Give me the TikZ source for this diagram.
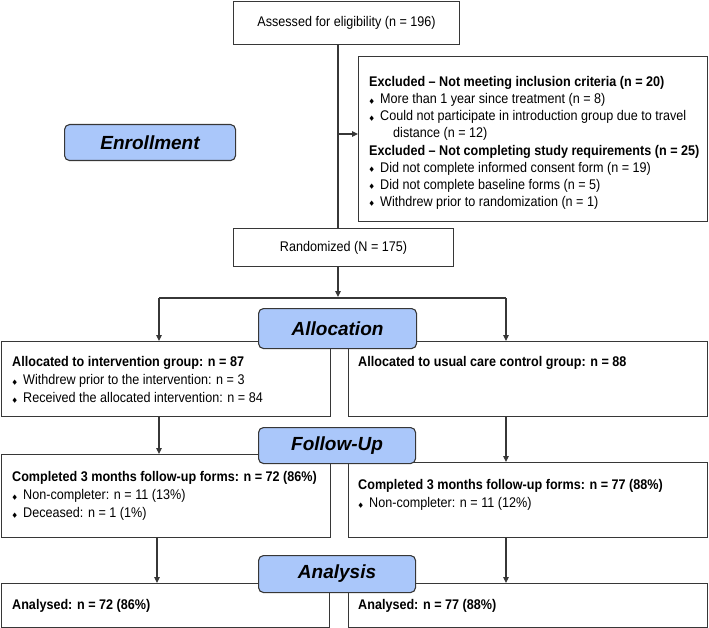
\documentclass[tikz,border=0pt]{standalone}
\usepackage{fontspec}
\usepackage{graphicx}
\setmainfont{Liberation Sans}
\newfontfamily\narrowf{Liberation Sans}[FakeStretch=0.9]
\newfontfamily\symf{DejaVu Sans}
\usetikzlibrary{arrows.meta}
\definecolor{stagefill}{RGB}{170,199,250}
\definecolor{linec}{RGB}{55,55,55}
\newcommand\dmd{\makebox[11pt][l]{\hspace{0.3pt}\raisebox{0.6pt}{\scalebox{0.8}[1]{\symf\fontsize{7}{5}\selectfont ◆}}}}
\begin{document}
\begin{tikzpicture}[x=1pt,y=-1pt,
  box/.style={draw=linec, line width=1.1pt, rectangle, anchor=north west, inner sep=0pt, fill=white},
  stage/.style={draw=linec, line width=1.1pt, rectangle, rounded corners=5pt, anchor=north west, inner sep=0pt, fill=stagefill, font=\fontsize{19}{19}\selectfont\bfseries\itshape},
  txt/.style={anchor=north west, inner sep=0pt, align=left, font=\narrowf\fontsize{14}{18}\selectfont},
  ctxt/.style={font=\narrowf\fontsize{14}{18}\selectfont},
  conn/.style={draw=linec, line width=1.1pt},
  arr/.style={conn, -{Triangle[length=6pt,width=5.5pt]}}]
\useasboundingbox (0,0) rectangle (709,628);
% boxes
\node[box, ctxt, minimum width=226pt, minimum height=43pt] (assess) at (233,1) {Assessed for eligibility (n = 196)};
\node[box, minimum width=349pt, minimum height=165pt] (excl) at (358,56) {};
\node[box, ctxt, minimum width=220pt, minimum height=38pt] (rand) at (233,228) {Randomized (N = 175)};
\node[box, minimum width=329pt, minimum height=75pt] (a1) at (1,341) {};
\node[box, minimum width=359pt, minimum height=75pt] (a2) at (348,341) {};
\node[box, minimum width=329pt, minimum height=83pt] (f1) at (1,454) {};
\node[box, minimum width=359pt, minimum height=75pt] (f2) at (348,462) {};
\node[box, minimum width=328pt, minimum height=44pt] (n1) at (1,583) {};
\node[box, minimum width=359pt, minimum height=44pt] (n2) at (348,583) {};
% texts
\node[txt, font=\narrowf\fontsize{14}{17.1}\selectfont] (exclt) at (369,76.3) {\textbf{Excluded – Not meeting inclusion criteria (n = 20)}\\
\dmd More than 1 year since treatment (n = 8)\\
\dmd Could not participate in introduction group due to travel\\
\hspace{24pt}distance (n = 12)\\
\textbf{Excluded – Not completing study requirements (n = 25)}\\
\dmd Did not complete informed consent form (n = 19)\\
\dmd Did not complete baseline forms (n = 5)\\
\dmd Withdrew prior to randomization (n = 1)};
\node[txt] (a1t) at (12,356.3) {\textbf{Allocated to intervention group: n = 87}\\
\dmd Withdrew prior to the intervention: n = 3\\
\dmd Received the allocated intervention: n = 84};
\node[txt] (a2t) at (358,356.3) {\textbf{Allocated to usual care control group: n = 88}};
\node[txt] (f1t) at (12,471.3) {\textbf{Completed 3 months follow-up forms: n = 72 (86\%)}\\
\dmd Non-completer: n = 11 (13\%)\\
\dmd Deceased: n = 1 (1\%)};
\node[txt] (f2t) at (358,479.3) {\textbf{Completed 3 months follow-up forms: n = 77 (88\%)}\\
\dmd Non-completer: n = 11 (12\%)};
\node[txt] (n1t) at (12,599.3) {\textbf{Analysed: n = 72 (86\%)}};
\node[txt] (n2t) at (358,599.3) {\textbf{Analysed: n = 77 (88\%)}};
% connectors
\coordinate (spine) at (338,0);
\coordinate (jx) at (338,134);
\coordinate (splittip) at (338,297);
\coordinate (hl) at (159,298);
\coordinate (hr) at (506,298);
\coordinate (ll) at (157,0);
\draw[conn] (assess.south -| spine) -- (rand.north -| spine);
\draw[arr] (jx) -- (jx -| excl.west);
\draw[arr] (rand.south -| spine) -- (splittip);
\draw[conn] (hl) -- (hr);
\draw[arr] (hl) -- (hl |- a1.north);
\draw[arr] (hr) -- (hr |- a2.north);
\draw[arr] (a1.south -| hl) -- (hl |- f1.north);
\draw[arr] (a2.south -| hr) -- (hr |- f2.north);
\draw[arr] (f1.south -| ll) -- (ll |- n1.north);
\draw[arr] (f2.south -| hr) -- (hr |- n2.north);
% stages
\node[stage, minimum width=171pt, minimum height=36pt] (enroll) at (64,124) {Enrollment};
\node[stage, minimum width=158pt, minimum height=40pt] (alloc) at (258,308) {Allocation};
\node[stage, minimum width=157pt, minimum height=36pt] (follow) at (258,427) {Follow-Up};
\node[stage, minimum width=157pt, minimum height=37pt] (analysis) at (258,555) {Analysis};
\end{tikzpicture}
\end{document}
